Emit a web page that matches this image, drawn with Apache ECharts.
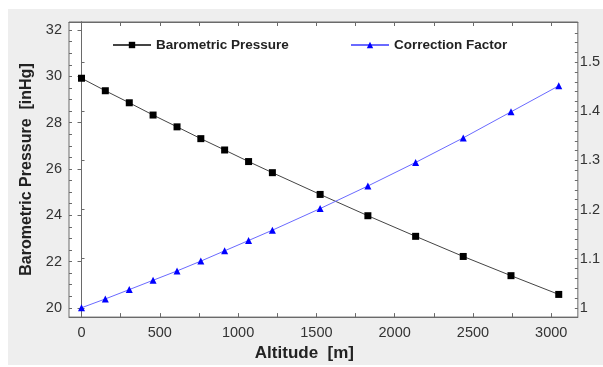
<!DOCTYPE html>
<html><head><meta charset="utf-8">
<script src="https://cdn.jsdelivr.net/npm/echarts@6/dist/echarts.min.js"></script>
<style>html,body{margin:0;padding:0;background:#fff}#c{width:603px;height:367px}</style>
</head><body><div id="c"></div>
<script>
const altitude = [0, 152, 305, 457, 610, 762, 914, 1067, 1219, 1524, 1829, 2134, 2438, 2743, 3048];
const pressure = [29.92, 29.38, 28.86, 28.33, 27.82, 27.31, 26.82, 26.32, 25.84, 24.90, 23.98, 23.09, 22.22, 21.39, 20.58];
const correction = [1.000, 1.018, 1.037, 1.056, 1.075, 1.095, 1.116, 1.137, 1.158, 1.202, 1.248, 1.296, 1.346, 1.399, 1.452];
const xLabels = [0, 500, 1000, 1500, 2000, 2500, 3000];
const xTicks = [0, 250, 500, 750, 1000, 1250, 1500, 1750, 2000, 2250, 2500, 2750, 3000];
const leftLabels = [20, 22, 24, 26, 28, 30, 32];
const leftMinor = [20, 20.5, 21, 21.5, 22, 22.5, 23, 23.5, 24, 24.5, 25, 25.5, 26, 26.5, 27, 27.5, 28, 28.5, 29, 29.5, 30, 30.5, 31, 31.5, 32];
const rightLabels = [1, 1.1, 1.2, 1.3, 1.4, 1.5];
const rightMinor = [1, 1.02, 1.04, 1.06, 1.08, 1.1, 1.12, 1.14, 1.16, 1.18, 1.2, 1.22, 1.24, 1.26, 1.28, 1.3, 1.32, 1.34, 1.36, 1.38, 1.4, 1.42, 1.44, 1.46, 1.48, 1.5, 1.52, 1.54, 1.56];

const chart = echarts.init(document.getElementById('c'), null, {renderer: 'canvas'});
const FONT = 'Liberation Sans, Arial, sans-serif';
const axisCol = '#6a6a6a';
const xr = {min: -80, max: 3170};
const yl = {min: 19.6, max: 32.35};
const yr = {min: 0.981, max: 1.582};
const legendText = {fontFamily: FONT, fontWeight: 'bold', fontSize: 13.5, color: '#222'};
chart.setOption({
  animation: false,
  backgroundColor: '#ffffff',
  graphic: [{type: 'rect', z: -10, shape: {x: 8, y: 9, width: 600, height: 356}, style: {fill: '#eeeeee'}}],
  grid: {left: 69, top: 22, right: 22, bottom: 46, show: true, backgroundColor: '#ffffff', borderColor: axisCol, borderWidth: 1},
  legend: [
    {data: ['Barometric Pressure'], left: 112, top: 38, padding: 0, itemWidth: 38, itemHeight: 8, textStyle: legendText},
    {data: ['Correction Factor'], left: 350, top: 38, padding: 0, itemWidth: 38, itemHeight: 8, textStyle: legendText}
  ],
  xAxis: [
    {type: 'value', position: 'bottom', ...xr,
     name: 'Altitude  [m]', nameLocation: 'middle', nameGap: 26,
     nameTextStyle: {fontFamily: FONT, fontWeight: 'bold', fontSize: 17, color: '#222', padding: [0, 38, 0, 0]},
     axisLine: {show: true, lineStyle: {color: axisCol}},
     axisTick: {show: true, inside: true, length: 4, customValues: xTicks, lineStyle: {color: axisCol}},
     axisLabel: {customValues: xLabels, formatter: v => String(v), fontFamily: FONT, fontSize: 14.5, color: '#333', margin: 8},
     splitLine: {show: false}},
    {type: 'value', position: 'top', ...xr,
     axisLine: {show: true, lineStyle: {color: axisCol}},
     axisTick: {show: true, inside: true, length: 4, customValues: xTicks, lineStyle: {color: axisCol}},
     axisLabel: {show: false}, splitLine: {show: false}}
  ],
  yAxis: [
    {type: 'value', position: 'left', ...yl,
     name: 'Barometric Pressure  [inHg]', nameLocation: 'middle', nameGap: 32, nameRotate: 90,
     nameTextStyle: {fontFamily: FONT, fontWeight: 'bold', fontSize: 16, color: '#222'},
     axisLine: {show: true, lineStyle: {color: axisCol}},
     axisTick: {show: true, inside: false, length: 4, customValues: leftLabels, lineStyle: {color: axisCol}},
     axisLabel: {customValues: leftLabels, fontFamily: FONT, fontSize: 14.5, color: '#333', margin: 7},
     splitLine: {show: false}},
    {type: 'value', position: 'right', ...yr,
     axisLine: {show: true, lineStyle: {color: axisCol}},
     axisTick: {show: true, inside: false, length: 3, customValues: rightLabels, lineStyle: {color: axisCol}},
     axisLabel: {customValues: rightLabels, fontFamily: FONT, fontSize: 14.5, color: '#333', margin: 2},
     splitLine: {show: false}},
    {type: 'value', position: 'left', ...yl,
     axisLine: {show: false},
     axisTick: {show: true, inside: true, length: 3, customValues: leftMinor, lineStyle: {color: axisCol}},
     axisLabel: {show: false}, splitLine: {show: false}},
    {type: 'value', position: 'right', ...yr,
     axisLine: {show: false},
     axisTick: {show: true, inside: true, length: 3, customValues: rightMinor, lineStyle: {color: axisCol}},
     axisLabel: {show: false}, splitLine: {show: false}}
  ],
  series: [
    {name: 'Barometric Pressure', type: 'line', xAxisIndex: 0, yAxisIndex: 0,
     data: altitude.map((a, i) => [a, pressure[i]]),
     symbol: 'rect', symbolSize: 7,
     lineStyle: {color: '#444', width: 1}, itemStyle: {color: '#000'}},
    {name: 'Correction Factor', type: 'line', xAxisIndex: 0, yAxisIndex: 1,
     data: altitude.map((a, i) => [a, correction[i]]),
     symbol: 'triangle', symbolSize: 7,
     lineStyle: {color: '#6a6aff', width: 1}, itemStyle: {color: '#0000ff'}}
  ]
});
</script></body></html>
